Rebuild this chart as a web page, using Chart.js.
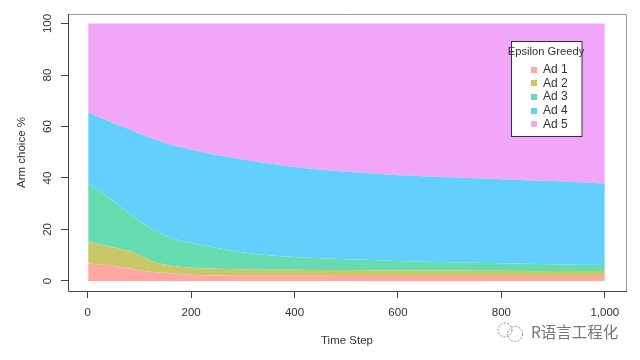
<!DOCTYPE html>
<html>
<head>
<meta charset="utf-8">
<script src="https://cdn.jsdelivr.net/npm/chart.js@4"></script>
<style>
  body { margin: 0; background: #fff; }
</style>
</head>
<body>
<canvas id="armChart" width="640" height="360"></canvas>
<script>
const timeSteps = [1, 25, 50, 75, 100, 125, 150, 175, 200, 250, 300, 400, 500, 600, 700, 800, 900, 1000];
const ad1 = [6.8, 6.4, 5.9, 5.1, 4.2, 3.5, 3.15, 2.8, 2.45, 2.15, 2.05, 2.0, 1.95, 1.9, 1.9, 1.9, 1.9, 1.9];
const ad2 = [8.5, 7.8, 7.2, 6.8, 5.9, 4.1, 3.25, 2.8, 2.65, 2.55, 2.45, 2.4, 2.35, 2.3, 2.2, 2.1, 2.0, 2.0];
const ad3 = [22.6, 20.4, 17.9, 15.4, 13.3, 12.6, 11.3, 10.3, 9.6, 8.1, 6.6, 4.9, 4.1, 3.6, 3.2, 2.9, 2.6, 2.3];
const ad4 = [27.6, 28.8, 30.3, 32.1, 33.8, 35.1, 35.9, 36.3, 36.3, 36.1, 36.1, 35, 34, 33.3, 33, 32.6, 32.3, 31.7];
const ad5 = [34.5, 36.6, 38.7, 40.6, 42.8, 44.7, 46.4, 47.8, 49, 51.1, 52.8, 55.7, 57.6, 58.9, 59.7, 60.5, 61.2, 62.1];
const seriesNames = ["Ad 1", "Ad 2", "Ad 3", "Ad 4", "Ad 5"];
const seriesColors = ["#ffa8a3", "#c9c868", "#67dcb0", "#62cffc", "#f2a6f8"];
const legendTitle = "Epsilon Greedy";
const watermark = "R语言工程化";

const FONT = '"Liberation Sans", Arial, sans-serif';
const TEXT = "#333333";

function makeDataset(values, i) {
  return {
    label: seriesNames[i],
    data: values.map((v, k) => ({ x: timeSteps[k], y: v })),
    backgroundColor: seriesColors[i],
    borderWidth: 0,
    pointRadius: 0,
    cubicInterpolationMode: "monotone",
    fill: i === 0 ? "origin" : "-1",
  };
}

// box round the plot, rotated y labels, legend and watermark
const extras = {
  id: "extras",
  afterDraw(chart) {
    const c = chart.ctx;
    const a = chart.chartArea;
    c.save();

    c.lineWidth = 1;
    c.strokeStyle = "#999999";
    c.beginPath();
    c.moveTo(a.left, a.top + 0.5);
    c.lineTo(a.right + 0.5, a.top + 0.5);
    c.lineTo(a.right + 0.5, a.bottom);
    c.stroke();
    c.strokeStyle = "#444444";
    c.beginPath();
    c.moveTo(a.left + 0.5, a.top);
    c.lineTo(a.left + 0.5, a.bottom + 0.5);
    c.lineTo(a.right + 1, a.bottom + 0.5);
    c.stroke();

    // R style y labels, turned 90 degrees
    const y = chart.scales.y;
    c.fillStyle = TEXT;
    c.font = "11.5px " + FONT;
    c.textAlign = "center";
    c.textBaseline = "middle";
    y.ticks.forEach((t, i) => {
      c.save();
      c.translate(48, y.getPixelForTick(i));
      c.rotate(-Math.PI / 2);
      c.fillText(String(t.value), 0, 0);
      c.restore();
    });

    // legend
    c.fillStyle = "#ffffff";
    c.fillRect(512, 42, 70, 95);
    c.strokeStyle = "#3a2a4a";
    c.strokeRect(511.5, 41.5, 70.5, 95);
    c.fillStyle = TEXT;
    c.font = "11.2px " + FONT;
    c.textAlign = "center";
    c.fillText(legendTitle, 546, 52);
    c.font = "12px " + FONT;
    c.textAlign = "left";
    chart.data.datasets.forEach((d, i) => {
      const rowY = 69.5 + i * 13.7;
      c.fillStyle = d.backgroundColor;
      c.fillRect(531, Math.round(rowY - 3), 6, 6);
      c.fillStyle = TEXT;
      c.fillText(d.label, 543, rowY);
    });

    // watermark
    c.strokeStyle = "#888888";
    c.setLineDash([2, 1.5]);
    c.beginPath();
    c.arc(505, 330, 7, 0, Math.PI * 2);
    c.stroke();
    c.beginPath();
    c.arc(515, 334, 7.5, 0, Math.PI * 2);
    c.stroke();
    c.setLineDash([]);
    c.fillStyle = "#777777";
    c.font = '15.5px "Noto Sans CJK SC", sans-serif';
    c.fillText(watermark, 531, 332);

    c.restore();
  },
};

new Chart(document.getElementById("armChart"), {
  type: "line",
  data: { datasets: [ad1, ad2, ad3, ad4, ad5].map(makeDataset) },
  options: {
    responsive: false,
    animation: false,
    layout: { padding: { top: 14, right: 14 } },
    plugins: { legend: { display: false }, tooltip: { enabled: false } },
    scales: {
      x: {
        type: "linear",
        min: -38,
        max: 1041,
        afterFit: (s) => { s.height = 69; },
        border: { display: false },
        grid: { drawOnChartArea: false, tickLength: 7, color: "#444444" },
        ticks: {
          stepSize: 200,
          includeBounds: false,
          maxRotation: 0,
          color: TEXT,
          padding: 8,
          font: { family: FONT, size: 11.5 },
        },
        title: {
          display: true,
          text: "Time Step",
          color: TEXT,
          padding: { top: 0, bottom: 12 },
          font: { family: FONT, size: 11.5 },
        },
      },
      y: {
        stacked: true,
        min: -3.9,
        max: 103.7,
        afterFit: (s) => { s.width = 68; },
        border: { display: false },
        grid: { drawOnChartArea: false, tickLength: 7, color: "#444444" },
        ticks: {
          display: false,
          stepSize: 20,
          includeBounds: false,
          callback: (v) => (v % 20 === 0 ? v : null),
        },
        title: {
          display: true,
          text: "Arm choice %",
          color: TEXT,
          padding: { top: 15, bottom: 0 },
          font: { family: FONT, size: 11.5 },
        },
      },
    },
  },
  plugins: [extras],
});
</script>
</body>
</html>
